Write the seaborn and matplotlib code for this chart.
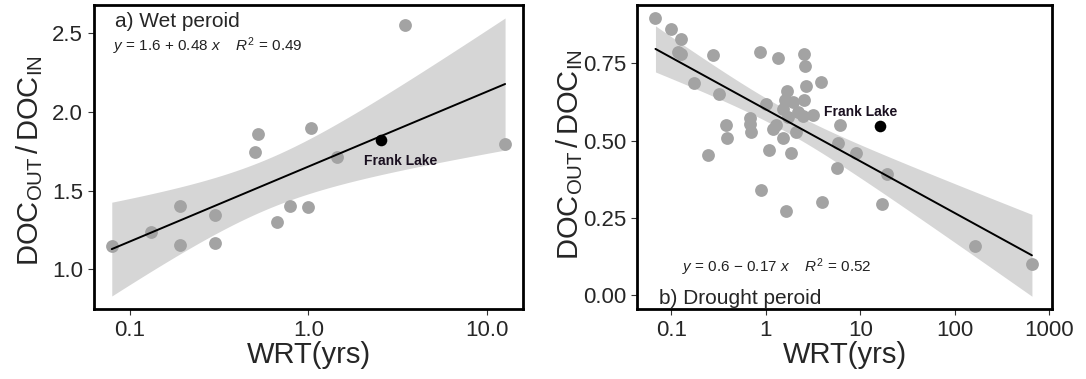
import math
import numpy as np
import pandas as pd
import matplotlib
matplotlib.use("Agg")
import matplotlib.pyplot as plt
import seaborn as sns

# ---------------- data ----------------
wet_wrt = [0.079, 0.131, 0.19, 0.19, 0.30, 0.30, 0.50, 0.52, 0.67, 0.79,
           1.0, 1.04, 1.45, 3.48, 12.7]
wet_ratio = [1.15, 1.235, 1.404, 1.154, 1.343, 1.169, 1.747, 1.862, 1.298, 1.404,
             1.398, 1.90, 1.716, 2.55, 1.796]
wet_frank_wrt = [2.56]
wet_frank_ratio = [1.82]

dry_wrt = [0.068, 0.099, 0.128, 0.118, 0.128, 0.276, 0.173, 0.318, 0.861, 1.0,
           0.676, 0.68, 0.70, 0.377, 0.389, 0.244, 0.895, 1.07, 1.20, 1.29,
           1.36, 1.52, 1.52, 1.59, 1.67, 1.72, 1.94, 2.10, 2.19, 2.48,
           2.52, 2.62, 2.64, 2.52, 3.16, 3.87, 1.86, 1.65, 3.96, 6.05,
           5.81, 5.66, 9.08, 19.2, 17.1, 164, 656]
dry_ratio = [0.896, 0.86, 0.828, 0.788, 0.779, 0.777, 0.687, 0.65, 0.788, 0.62,
             0.572, 0.553, 0.529, 0.55, 0.509, 0.452, 0.34, 0.47, 0.539, 0.55,
             0.769, 0.604, 0.51, 0.631, 0.661, 0.577, 0.626, 0.529, 0.593, 0.579,
             0.782, 0.742, 0.677, 0.631, 0.583, 0.689, 0.461, 0.273, 0.302, 0.55,
             0.493, 0.41, 0.461, 0.392, 0.294, 0.159, 0.100]
dry_frank_wrt = [16.0]
dry_frank_ratio = [0.548]

wet_xticks = [0.1, 1.0, 10.0]
wet_xticklabels = ["0.1", "1.0", "10.0"]
wet_yticks = [1.0, 1.5, 2.0, 2.5]
wet_yticklabels = ["1.0", "1.5", "2.0", "2.5"]
dry_xticks = [0.1, 1, 10, 100, 1000]
dry_xticklabels = ["0.1", "1", "10", "100", "1000"]
dry_yticks = [0.0, 0.25, 0.5, 0.75]
dry_yticklabels = ["0.00", "0.25", "0.50", "0.75"]

panel_titles = ["a) Wet peroid", "b) Drought peroid"]
equations = [r"$y$ = 1.6 + 0.48 $x$    $R^2$ = 0.49",
             r"$y$ = 0.6 $-$ 0.17 $x$    $R^2$ = 0.52"]
frank_label = "Frank Lake"

# ---------------- style ----------------
sns.set_theme(style="white")
plt.rcParams["font.family"] = ["Liberation Sans", "DejaVu Sans"]
plt.rcParams["mathtext.fontset"] = "custom"
plt.rcParams["mathtext.rm"] = "Liberation Sans"
plt.rcParams["mathtext.it"] = "Liberation Sans:italic"
plt.rcParams["mathtext.bf"] = "Liberation Sans:bold"

fig = plt.figure(figsize=(10.86, 3.79), dpi=100)
ax1 = fig.add_axes([0.0868, 0.1847, 0.3952, 0.802])
ax2 = fig.add_axes([0.5866, 0.1847, 0.3821, 0.802])

point_color = "#a3a3a3"


def t_ppf975(df):
    """95% two-sided t quantile via bisection on a numerically integrated pdf."""
    c = math.exp(math.lgamma((df + 1) / 2) - math.lgamma(df / 2)) / math.sqrt(df * math.pi)

    def cdf(t):
        g = np.linspace(0, t, 4001)
        pdf = c * (1 + g ** 2 / df) ** (-(df + 1) / 2)
        return 0.5 + np.trapezoid(pdf, g)

    lo, hi = 0.0, 20.0
    for _ in range(60):
        mid = (lo + hi) / 2
        if cdf(mid) < 0.975:
            lo = mid
        else:
            hi = mid
    return (lo + hi) / 2


def panel(ax, wrt, ratio, fwrt, fratio, xlim, ylim, xt, xtl, yt, ytl):
    lx = np.log10(np.array(wrt))
    yy = np.array(ratio)
    df = pd.DataFrame({"logwrt": lx, "ratio": yy})
    # regression line via seaborn
    sns.regplot(data=df, x="logwrt", y="ratio", ax=ax, scatter=False,
                color="black", ci=None, line_kws=dict(lw=1.4, zorder=3))
    # analytic 95% confidence band of the fitted mean (as in lm smoothing)
    n = len(lx)
    slope, inter = np.polyfit(lx, yy, 1)
    resid = yy - (inter + slope * lx)
    s = np.sqrt(np.sum(resid ** 2) / (n - 2))
    xbar = lx.mean()
    sxx = np.sum((lx - xbar) ** 2)
    grid = np.linspace(lx.min(), lx.max(), 200)
    fit = inter + slope * grid
    half = t_ppf975(n - 2) * s * np.sqrt(1 / n + (grid - xbar) ** 2 / sxx)
    ax.fill_between(grid, fit - half, fit + half, color="#999999", alpha=0.4,
                    linewidth=0, zorder=1)
    sns.scatterplot(data=df, x="logwrt", y="ratio", ax=ax, color=point_color,
                    s=85, linewidth=0, zorder=2)
    fp = pd.DataFrame({"logwrt": np.log10(fwrt), "ratio": fratio})
    sns.scatterplot(data=fp, x="logwrt", y="ratio", ax=ax, color="black",
                    s=70, linewidth=0, zorder=4)
    ax.set_xlim(np.log10(xlim[0]), np.log10(xlim[1]))
    ax.set_ylim(*ylim)
    ax.set_xticks(np.log10(xt))
    ax.set_xticklabels(xtl)
    ax.set_yticks(yt)
    ax.set_yticklabels(ytl)
    ax.tick_params(axis="both", which="major", direction="out", length=4,
                   width=0.8, color="#333333", labelsize=16, pad=4,
                   bottom=True, left=True)
    for sp in ax.spines.values():
        sp.set_color("black")
        sp.set_linewidth(2.0)
    ax.set_xlabel("WRT(yrs)", fontsize=21)
    ax.set_ylabel(r"$\mathrm{DOC_{OUT}\,/\,DOC_{IN}}$", fontsize=21)
    ax.xaxis.set_label_coords(0.5, -0.106)
    ax.grid(False)


panel(ax1, wet_wrt, wet_ratio, wet_frank_wrt, wet_frank_ratio,
      (0.063, 16.1), (0.748, 2.68), wet_xticks, wet_xticklabels,
      wet_yticks, wet_yticklabels)
panel(ax2, dry_wrt, dry_ratio, dry_frank_wrt, dry_frank_ratio,
      (0.0434, 1070), (-0.045, 0.939), dry_xticks, dry_xticklabels,
      dry_yticks, dry_yticklabels)

ax1.yaxis.set_label_coords(-0.115, 0.487)
ax2.yaxis.set_label_coords(-0.125, 0.507)

ax1.text(0.048, 0.945, panel_titles[0], transform=ax1.transAxes,
         fontsize=15, va="center", ha="left")
ax1.text(0.0436, 0.863, equations[0], transform=ax1.transAxes,
         fontsize=11, va="center", ha="left", color="#222222")
ax2.text(0.054, 0.036, panel_titles[1], transform=ax2.transAxes,
         fontsize=15, va="center", ha="left")
ax2.text(0.108, 0.139, equations[1], transform=ax2.transAxes,
         fontsize=11, va="center", ha="left", color="#222222")

ax1.text(np.log10(3.3), 1.69, frank_label, fontsize=10, fontweight="bold",
         ha="center", va="center", color="#1a1020")
ax2.text(np.log10(10.0), 0.592, frank_label, fontsize=10, fontweight="bold",
         ha="center", va="center", color="#1a1020")

fig.savefig("out.png", dpi=100)
